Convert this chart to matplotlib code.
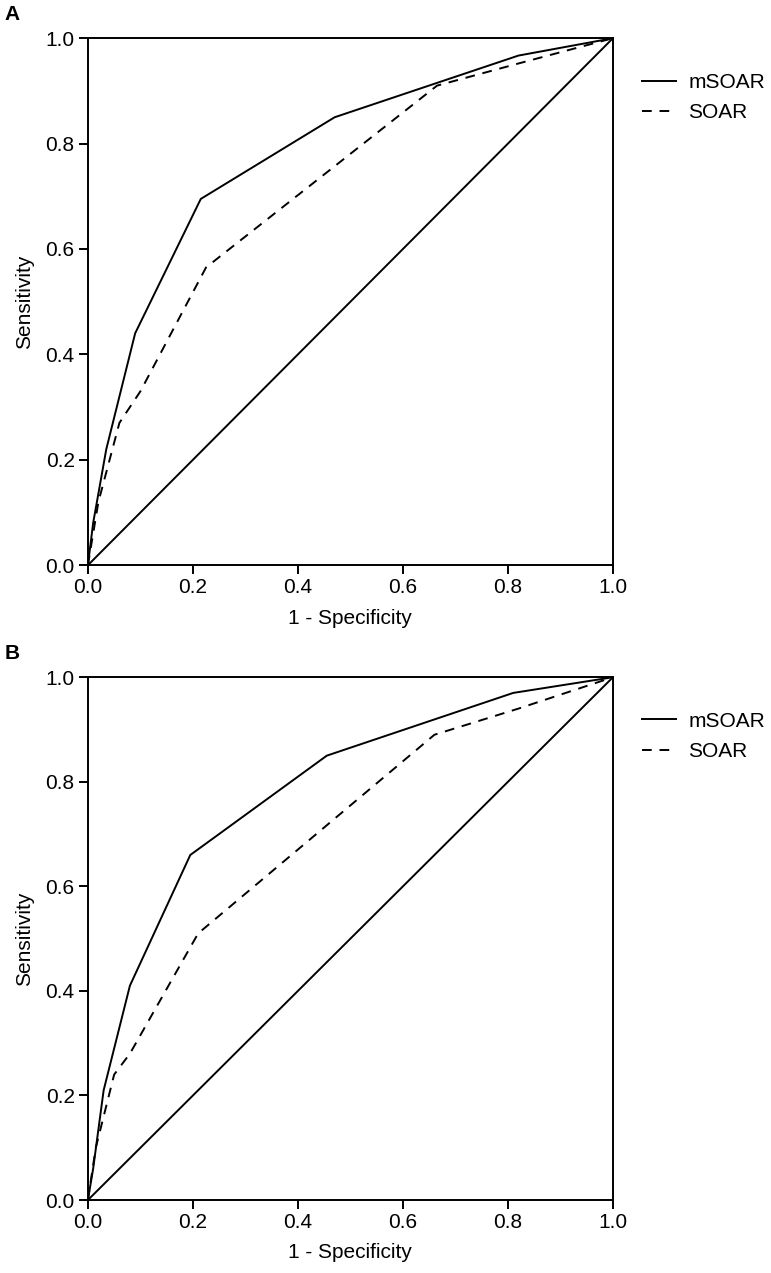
import matplotlib
matplotlib.use("Agg")
import matplotlib.pyplot as plt

plt.rcParams["font.family"] = ["Liberation Sans", "DejaVu Sans"]

# ROC points, panel A
a_msoar_x = [0.0, 0.01, 0.035, 0.09, 0.215, 0.47, 0.82, 1.0]
a_msoar_y = [0.0, 0.08, 0.22, 0.44, 0.695, 0.85, 0.967, 1.0]
a_soar_x = [0.0, 0.02, 0.06, 0.10, 0.225, 0.665, 0.82, 1.0]
a_soar_y = [0.0, 0.12, 0.27, 0.33, 0.565, 0.91, 0.952, 1.0]

# ROC points, panel B
b_msoar_x = [0.0, 0.01, 0.03, 0.08, 0.195, 0.455, 0.81, 1.0]
b_msoar_y = [0.0, 0.06, 0.21, 0.41, 0.66, 0.85, 0.97, 1.0]
b_soar_x = [0.0, 0.015, 0.05, 0.08, 0.21, 0.66, 0.82, 1.0]
b_soar_y = [0.0, 0.10, 0.24, 0.28, 0.51, 0.89, 0.94, 1.0]

ticks = [0.0, 0.2, 0.4, 0.6, 0.8, 1.0]
FS = 15


def draw_roc(ax, mx, my, sx, sy, letter):
    ax.plot(mx, my, color="black", lw=1.4, label="mSOAR")
    ax.plot(sx, sy, color="black", lw=1.4, ls=(0, (5, 4)), label="SOAR")
    ax.plot([0, 1], [0, 1], color="black", lw=1.4)
    ax.set_xlim(0, 1)
    ax.set_ylim(0, 1)
    ax.set_xticks(ticks)
    ax.set_yticks(ticks)
    ax.set_xticklabels([f"{t:.1f}" for t in ticks])
    ax.set_yticklabels([f"{t:.1f}" for t in ticks])
    ax.tick_params(direction="out", length=6.5, width=1.4, labelsize=FS,
                   top=False, right=False, pad=3)
    for s in ax.spines.values():
        s.set_linewidth(1.4)
    ax.set_xlabel("1 - Specificity", fontsize=FS, labelpad=8)
    ax.set_ylabel("Sensitivity", fontsize=FS, labelpad=8)
    ax.legend(loc="upper left", bbox_to_anchor=(1.04, 0.95), frameon=False,
              fontsize=FS, handlelength=1.6, handletextpad=0.6,
              labelspacing=0.55, borderaxespad=0)
    ax.text(-0.158, 1.045, letter, transform=ax.transAxes, fontsize=FS,
            fontweight="bold", ha="left", va="center")


fig = plt.figure(figsize=(7.71, 12.73), dpi=100)
ax1 = fig.add_axes([0.114, 0.556, 0.681, 0.414])
ax2 = fig.add_axes([0.114, 0.0573, 0.681, 0.4107])

draw_roc(ax1, a_msoar_x, a_msoar_y, a_soar_x, a_soar_y, "A")
draw_roc(ax2, b_msoar_x, b_msoar_y, b_soar_x, b_soar_y, "B")

fig.savefig("out.png", dpi=100)
